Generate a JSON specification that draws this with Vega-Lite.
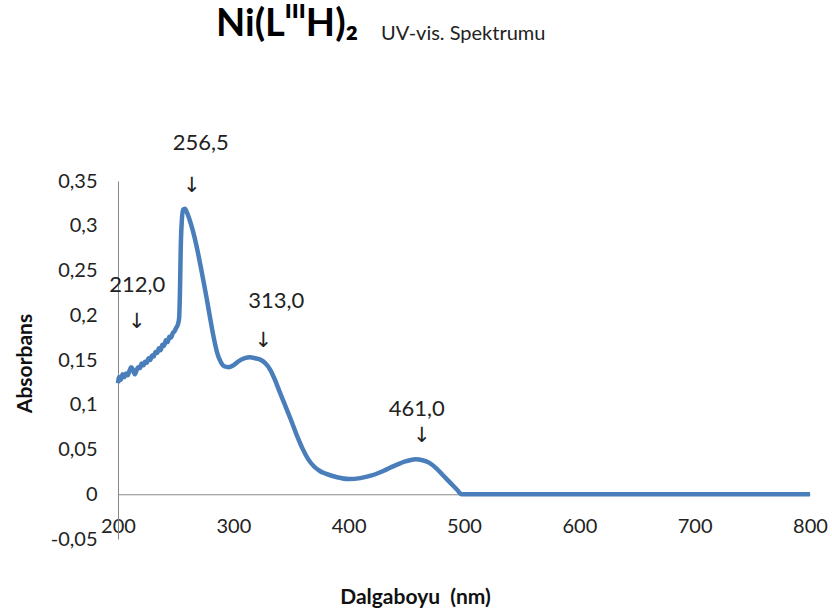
{
  "$schema": "https://vega.github.io/schema/vega-lite/v6.json",
  "width": 692,
  "height": 358,
  "autosize": {"type": "none"},
  "padding": {"left": 118, "top": 181, "right": 22, "bottom": 75},
  "background": "white",
  "config": {"view": {"stroke": null}, "font": "Lato"},
  "title": {
    "text": "Ni(L\u1d35\u1d35\u1d35H)\u2082",
    "subtitle": "\u200b\u2003\u2003\u2003\u2003\u2003\u2003\u2003\u2003\u2003\u2002\u2002\u2002UV-vis. Spektrumu",
    "anchor": "start",
    "frame": "group",
    "dx": 98,
    "baseline": "alphabetic",
    "font": "Lato",
    "fontSize": 38,
    "fontWeight": "bold",
    "color": "#000000",
    "subtitleFont": "Lato",
    "subtitleFontSize": 20,
    "subtitleColor": "#222222",
    "subtitlePadding": -34,
    "offset": 58
  },
  "datasets": {
    "curve": [
      {"nm": 200, "a": 0.124}, {"nm": 201, "a": 0.131}, {"nm": 202.5, "a": 0.128}, {"nm": 204, "a": 0.134},
      {"nm": 205.5, "a": 0.131}, {"nm": 207, "a": 0.135}, {"nm": 208.5, "a": 0.133}, {"nm": 210, "a": 0.138},
      {"nm": 211.5, "a": 0.142}, {"nm": 213, "a": 0.139}, {"nm": 214.5, "a": 0.134}, {"nm": 216, "a": 0.138},
      {"nm": 217.5, "a": 0.142}, {"nm": 219, "a": 0.141}, {"nm": 220.5, "a": 0.146}, {"nm": 222, "a": 0.144},
      {"nm": 223.5, "a": 0.148}, {"nm": 225, "a": 0.147}, {"nm": 226.5, "a": 0.152}, {"nm": 228, "a": 0.15},
      {"nm": 229.5, "a": 0.155}, {"nm": 231, "a": 0.154}, {"nm": 232.5, "a": 0.159}, {"nm": 234, "a": 0.158},
      {"nm": 235.5, "a": 0.163}, {"nm": 237, "a": 0.161}, {"nm": 238.5, "a": 0.167}, {"nm": 240, "a": 0.166},
      {"nm": 241.5, "a": 0.172}, {"nm": 243, "a": 0.17}, {"nm": 244.5, "a": 0.176}, {"nm": 246, "a": 0.175},
      {"nm": 247.5, "a": 0.18}, {"nm": 249, "a": 0.182}, {"nm": 250.5, "a": 0.186}, {"nm": 252, "a": 0.19},
      {"nm": 253, "a": 0.197}, {"nm": 253.7, "a": 0.225}, {"nm": 254.4, "a": 0.275}, {"nm": 255.3, "a": 0.305},
      {"nm": 256.5, "a": 0.318}, {"nm": 258, "a": 0.319}, {"nm": 260, "a": 0.314}, {"nm": 262, "a": 0.307},
      {"nm": 265, "a": 0.294}, {"nm": 268, "a": 0.278}, {"nm": 271, "a": 0.259}, {"nm": 274, "a": 0.239},
      {"nm": 277, "a": 0.218}, {"nm": 280, "a": 0.196}, {"nm": 283, "a": 0.175}, {"nm": 286, "a": 0.158},
      {"nm": 289, "a": 0.148}, {"nm": 292, "a": 0.143}, {"nm": 296, "a": 0.142}, {"nm": 300, "a": 0.144},
      {"nm": 305, "a": 0.149}, {"nm": 310, "a": 0.152}, {"nm": 314, "a": 0.153}, {"nm": 319, "a": 0.152},
      {"nm": 324, "a": 0.15}, {"nm": 328, "a": 0.146}, {"nm": 332, "a": 0.139}, {"nm": 336, "a": 0.128},
      {"nm": 340, "a": 0.115}, {"nm": 345, "a": 0.099}, {"nm": 350, "a": 0.083}, {"nm": 355, "a": 0.066},
      {"nm": 360, "a": 0.051}, {"nm": 365, "a": 0.039}, {"nm": 370, "a": 0.031}, {"nm": 375, "a": 0.026},
      {"nm": 380, "a": 0.023}, {"nm": 390, "a": 0.019}, {"nm": 400, "a": 0.017}, {"nm": 410, "a": 0.018},
      {"nm": 420, "a": 0.021}, {"nm": 430, "a": 0.026}, {"nm": 440, "a": 0.032}, {"nm": 450, "a": 0.037},
      {"nm": 458, "a": 0.039}, {"nm": 464, "a": 0.038}, {"nm": 470, "a": 0.035}, {"nm": 476, "a": 0.029},
      {"nm": 482, "a": 0.021}, {"nm": 488, "a": 0.013}, {"nm": 494, "a": 0.005}, {"nm": 498, "a": 0},
      {"nm": 520, "a": 0}, {"nm": 560, "a": 0}, {"nm": 600, "a": 0}, {"nm": 650, "a": 0},
      {"nm": 700, "a": 0}, {"nm": 750, "a": 0}, {"nm": 800, "a": 0}
    ],
    "labels": [
      {"label": "212,0", "nm": 216.7, "a": 0.234},
      {"label": "256,5", "nm": 271.7, "a": 0.393},
      {"label": "313,0", "nm": 337.2, "a": 0.2157},
      {"label": "461,0", "nm": 459, "a": 0.095}
    ],
    "arrows": [
      {"peak": "212,0", "nm": 216.2, "a": 0.192},
      {"peak": "256,5", "nm": 263.9, "a": 0.344},
      {"peak": "313,0", "nm": 326, "a": 0.171},
      {"peak": "461,0", "nm": 463.3, "a": 0.065}
    ]
  },
  "layer": [
    {
      "data": {"name": "curve"},
      "mark": {"type": "line", "color": "#4A7EBB", "strokeWidth": 4.5, "interpolate": "monotone", "clip": false},
      "encoding": {
        "x": {
          "field": "nm", "type": "quantitative",
          "scale": {"domain": [200, 800], "nice": false, "zero": false},
          "axis": {
            "title": "Dalgaboyu\u00a0 (nm)",
            "values": [200, 300, 400, 500, 600, 700, 800],
            "offset": -44.75,
            "grid": false,
            "ticks": false,
            "domainColor": "#898989",
            "domainWidth": 1,
            "labelFont": "Lato",
            "labelFontSize": 20,
            "labelColor": "#222222",
            "labelPadding": 22,
            "labelFlush": false,
            "titleFont": "Lato",
            "titleFontSize": 21,
            "titleFontWeight": "bold",
            "titleColor": "#111111",
            "titleX": 297,
            "titleY": 103,
            "titleBaseline": "middle"
          }
        },
        "y": {
          "field": "a", "type": "quantitative",
          "scale": {"domain": [-0.05, 0.35], "nice": false, "zero": false},
          "axis": {
            "title": "Absorbans",
            "values": [-0.05, 0, 0.05, 0.1, 0.15, 0.2, 0.25, 0.3, 0.35],
            "labelExpr": "replace(toString(round(datum.value*100)/100), '.', ',')",
            "grid": false,
            "ticks": false,
            "domainColor": "#898989",
            "domainWidth": 1,
            "labelFont": "Lato",
            "labelFontSize": 20,
            "labelColor": "#222222",
            "labelPadding": 21,
            "labelFlush": false,
            "titleFont": "Lato",
            "titleFontSize": 21,
            "titleFontWeight": "bold",
            "titleColor": "#111111",
            "titleX": -93,
            "titleY": 182,
            "titleBaseline": "middle"
          }
        }
      }
    },
    {
      "data": {"name": "labels"},
      "mark": {"type": "text", "font": "Lato", "fontSize": 22, "color": "#222222", "align": "center", "baseline": "middle"},
      "encoding": {
        "x": {"field": "nm", "type": "quantitative"},
        "y": {"field": "a", "type": "quantitative"},
        "text": {"field": "label"}
      }
    },
    {
      "data": {"name": "arrows"},
      "mark": {"type": "text", "font": "DejaVu Sans", "fontSize": 21, "color": "#222222", "align": "center", "baseline": "middle"},
      "encoding": {
        "x": {"field": "nm", "type": "quantitative"},
        "y": {"field": "a", "type": "quantitative"},
        "text": {"value": "\u2193"}
      }
    }
  ]
}
